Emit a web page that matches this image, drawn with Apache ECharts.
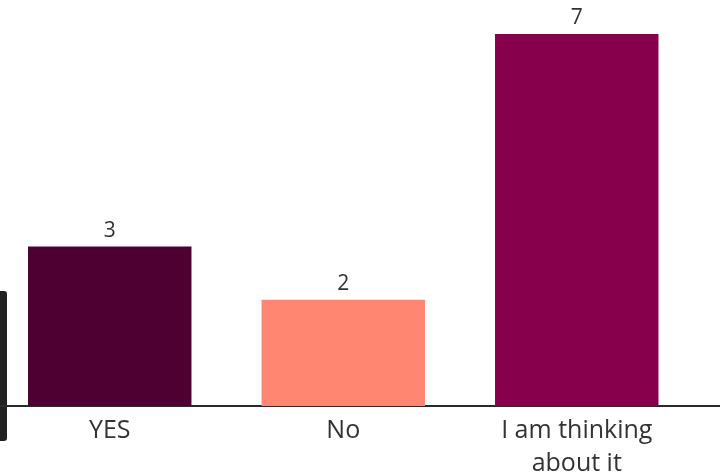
<!DOCTYPE html>
<html>
<head>
<meta charset="utf-8">
<script src="https://cdn.jsdelivr.net/npm/echarts@6/dist/echarts.min.js"></script>
<style>
  html, body { margin: 0; padding: 0; background: #fff; }
  #main { width: 720px; height: 476px; }
</style>
</head>
<body>
<div id="main"></div>
<script>
var categories = ["YES", "No", "I am thinking\nabout it"];
var counts = [3, 2, 7];
var barColors = ["#4e0032", "#ff8670", "#86004c"];

var myChart = echarts.init(document.getElementById('main'));

var option = {
    animation: false,
    grid: { left: -7, top: 34, width: 700.5, bottom: 70, outerBoundsMode: 'none', containLabel: false },
    xAxis: {
        type: 'category',
        data: categories,
        axisLine: { show: true, lineStyle: { color: '#2a2a2a', width: 2 } },
        axisTick: { show: false },
        axisLabel: {
            color: '#333',
            fontFamily: 'Open Sans',
            fontSize: 25,
            lineHeight: 33,
            margin: 8
        }
    },
    yAxis: {
        type: 'value',
        min: 0,
        max: 7,
        show: false
    },
    series: [{
        type: 'bar',
        barWidth: '70%',
        data: counts.map(function (v, i) {
            return { value: v, itemStyle: { color: barColors[i] } };
        }),
        label: {
            show: true,
            position: 'top',
            distance: 5,
            color: '#333',
            fontFamily: 'Open Sans',
            fontSize: 21
        }
    }],
    graphic: [
        // baseline runs on to the right edge
        { type: 'line', shape: { x1: 690, y1: 406, x2: 720, y2: 406 }, style: { stroke: '#2a2a2a', lineWidth: 2 } },
        // dark strip cut off at the left edge
        { type: 'rect', shape: { x: -4, y: 291, width: 11, height: 150, r: 3 }, style: { fill: '#222' } }
    ]
};

myChart.setOption(option);
</script>
</body>
</html>
